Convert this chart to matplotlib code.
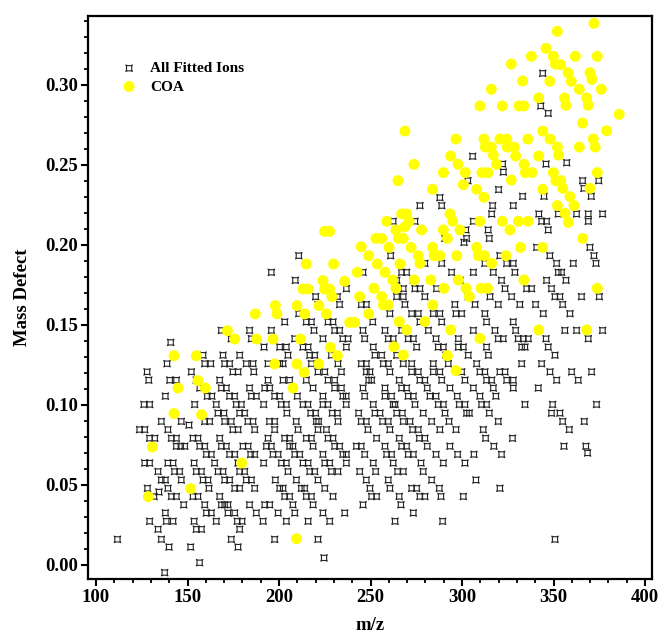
import matplotlib
matplotlib.use("Agg")
import matplotlib.pyplot as plt
import matplotlib.ticker as mticker
import numpy as np
from matplotlib.path import Path

plt.rcParams.update({
    "font.family": "Liberation Serif",
    "font.weight": "bold",
    "axes.labelweight": "bold",
})

# ── data ────────────────────────────────────────────────────────────────────
# all fitted ions, grouped by mass-defect row: (mass defect, [m/z, ...])
ion_rows = [
    (0.2246, [277.0, 288.9, 316.7, 328.0]),
    (0.2194, [316.2, 342.0, 352.6, 362.6, 369.0, 376.8]),
    (0.2148, [262.4, 274.3, 306.2, 343.5, 346.2, 369.0]),
    (0.2094, [302.1, 314.3, 347.1]),
    (0.2041, [290.7, 302.5, 314.9]),
    (0.2016, [301.1]),
    (0.1985, [340.8, 369.9]),
    (0.1933, [210.8, 261.0, 320.7, 348.0, 372.1]),
    (0.1885, [279.7, 288.9, 312.5, 324.4, 328.0, 351.7, 360.8, 373.2]),
    (0.1829, [195.8, 245.9, 267.0, 269.7, 294.3, 306.2, 317.1, 328.9, 352.6, 354.4]),
    (0.1779, [208.9, 264.3, 273.4, 298.9, 321.6, 346.2, 356.8]),
    (0.1727, [236.8, 265.2, 267.9, 274.3, 277.0, 286.1, 313.4, 323.5, 335.3, 338.0, 348.9]),
    (0.1677, [220.0, 231.9, 264.3, 267.9, 279.7, 303.4, 315.3, 327.1, 350.8, 353.5, 365.3, 375.0]),
    (0.1628, [221.3, 233.1, 245.0, 247.7, 268.8, 296.1, 307.1, 319.8, 331.6, 340.2, 355.0]),
    (0.1571, [210.8, 260.6, 272.5, 276.1, 284.3, 287.9, 296.7, 299.8, 312.5, 344.4, 359.0]),
    (0.1519, [203.1, 214.9, 217.7, 226.8, 229.5, 251.2, 277.0, 288.9, 313.4, 328.0]),
    (0.1466, [168.5, 183.9, 195.8, 219.1, 230.4, 233.1, 245.9, 257.9, 267.0, 281.6, 306.2,
              318.0, 329.3, 356.2, 362.6, 376.8]),
    (0.1414, [173.9, 184.9, 208.6, 224.0, 234.9, 237.7, 246.8, 259.7, 262.4, 270.6, 273.4,
              285.8, 298.0, 319.8, 322.5, 330.7, 333.5, 336.2, 345.9, 369.0]),
    (0.1391, [140.8]),
    (0.1362, [191.8, 200.4, 204.0, 213.1, 215.9, 236.8, 251.5, 275.2, 287.0, 289.8, 298.0,
              300.7, 313.4, 332.6, 334.4, 347.1]),
    (0.1311, [158.5, 169.4, 178.5, 204.9, 216.8, 219.5, 228.6, 252.4, 256.1, 264.3, 291.2,
              303.4, 314.4, 350.8]),
    (0.1258, [138.8, 159.4, 162.7, 170.3, 173.0, 182.1, 185.8, 194.0, 200.4, 202.2, 217.7,
              232.2, 245.0, 247.7, 257.0, 259.7, 267.9, 272.5, 284.3, 292.5, 308.0, 332.6,
              343.5]),
    (0.1207, [127.9, 152.1, 174.8, 177.6, 186.2, 221.3, 225.0, 234.1, 247.7, 249.7, 260.6,
              272.5, 276.1, 284.3, 287.9, 299.8, 309.8, 312.5, 320.7, 323.5, 348.1, 359.9,
              370.8]),
    (0.1155, [128.8, 140.3, 143.9, 154.8, 167.6, 194.0, 202.2, 205.8, 214.9, 226.8, 230.4,
              249.0, 250.6, 265.7, 277.0, 279.7, 288.9, 301.6, 313.4, 316.2, 324.4, 328.0,
              351.7, 363.5]),
    (0.1106, [156.7, 168.5, 171.2, 183.9, 192.2, 194.9, 218.6, 230.4, 234.1, 245.9, 257.9,
              267.0, 269.7, 281.0, 293.4, 306.2, 317.1, 328.0, 341.7]),
    (0.1055, [137.9, 160.8, 163.3, 173.0, 175.7, 184.9, 187.6, 197.6, 200.3, 210.0, 224.0,
              234.9, 236.7, 246.8, 257.9, 261.5, 270.6, 273.4, 282.5, 285.8, 297.4, 309.8,
              318.5]),
    (0.1003, [126.2, 129.3, 153.9, 165.7, 176.6, 179.4, 191.6, 201.2, 204.0, 213.1, 215.8,
              224.0, 226.7, 236.7, 251.5, 262.4, 263.4, 274.3, 287.0, 289.8, 298.5, 301.6,
              310.7, 313.4, 334.4, 349.5, 373.5]),
    (0.0949, [166.6, 169.9, 178.5, 181.2, 204.3, 217.3, 220.0, 229.1, 231.9, 243.5, 252.4,
              255.2, 264.3, 267.4, 278.8, 290.7, 302.5, 304.0, 314.9, 348.9, 353.5]),
    (0.0897, [135.7, 146.6, 159.4, 162.1, 170.3, 173.9, 183.0, 185.8, 194.8, 197.6, 209.4,
              220.4, 221.6, 232.2, 244.9, 247.7, 256.6, 259.7, 267.9, 271.6, 283.4, 292.9,
              319.8, 355.0, 366.8]),
    (0.0874, [150.8]),
    (0.0846, [123.8, 126.6, 139.3, 174.8, 177.6, 186.7, 197.6, 210.4, 221.3, 225.9, 248.6,
              260.6, 273.0, 276.1, 287.9, 296.7, 311.6, 358.6]),
    (0.0792, [129.3, 132.1, 141.2, 143.9, 153.0, 155.7, 167.6, 194.0, 203.1, 205.8, 214.9,
              217.7, 226.8, 229.5, 253.3, 265.7, 276.7, 279.7, 312.9, 327.6]),
    (0.0742, [143.9, 146.3, 148.5, 156.7, 159.4, 168.5, 171.2, 180.3, 183.1, 193.1, 195.8,
              205.8, 207.6, 218.6, 230.4, 233.1, 242.3, 244.9, 257.9, 267.0, 269.7, 281.0,
              293.4, 317.4, 355.7, 367.7]),
    (0.0700, [368.6]),
    (0.0691, [160.3, 163.0, 173.0, 175.8, 184.5, 186.7, 196.7, 199.5, 208.6, 211.3, 224.0,
              234.9, 236.8, 246.8, 258.8, 261.5, 270.6, 273.4, 285.8, 297.6, 306.5, 321.6]),
    (0.0637, [126.6, 129.3, 139.3, 142.1, 153.6, 164.8, 177.6, 191.6, 201.3, 204.0, 213.1,
              215.9, 225.0, 227.7, 236.8, 251.5, 262.4, 277.6, 289.8, 301.6]),
    (0.0584, [133.9, 142.9, 145.7, 154.8, 157.6, 166.7, 169.4, 178.5, 181.2, 204.9, 216.8,
              219.5, 228.6, 232.2, 244.1, 252.8, 264.8, 267.9, 278.8]),
    (0.0531, [135.7, 137.9, 146.6, 158.5, 161.2, 170.3, 173.0, 182.1, 184.9, 198.0, 209.5,
              221.3, 247.7, 259.7, 283.4, 307.6]),
    (0.0479, [128.1, 139.3, 161.7, 175.8, 178.5, 186.7, 200.4, 202.2, 212.2, 214.0, 225.0,
              249.7, 260.6, 272.5, 275.2, 287.6, 320.7]),
    (0.0456, [134.4]),
    (0.0428, [131.7, 141.2, 143.9, 153.0, 155.7, 167.6, 203.1, 205.8, 214.9, 217.7, 229.5,
              250.6, 253.3, 265.7, 277.0, 279.7, 288.5, 300.7]),
    (0.0376, [147.9, 159.4, 168.5, 170.3, 172.1, 183.9, 192.2, 194.9, 207.6, 218.6, 245.9,
              266.6]),
    (0.0325, [137.9, 160.3, 163.0, 172.1, 175.8, 187.6, 199.5, 208.6, 224.0, 235.9, 273.4]),
    (0.0273, [129.3, 138.4, 142.1, 153.6, 165.7, 177.2, 179.8, 191.3, 204.0, 215.9, 227.7,
              263.4, 289.4]),
    (0.0223, [133.9, 154.8, 157.6, 178.5]),
    (0.0160, [111.7, 135.7, 173.9, 197.6, 221.3, 350.8]),
    (0.0112, [139.9, 151.7, 177.6]),
    (0.0044, [224.6]),
    (0.0014, [156.6]),
    (-0.0048, [137.5]),
]

# ions sitting off the rows, in the upper right
ion_extra_mz = [344.1, 343.0, 347.1, 305.8, 322.2, 322.6, 345.9, 357.2, 303.2, 365.9,
                374.7, 320.0, 366.6, 287.9, 333.1, 344.8, 370.6]
ion_extra_md = [0.3073, 0.2869, 0.2823, 0.2554, 0.2506, 0.2456, 0.2506, 0.2514, 0.2402,
                0.2402, 0.2402, 0.2346, 0.2354, 0.2296, 0.2304, 0.2304, 0.2304]

# COA ions
coa_mz = [
    372.1, 352.1, 345.9, 337.9, 349.9, 361.9, 373.9, 326.9, 351.0, 353.9,
    357.9, 369.9, 333.1, 348.0, 359.7, 371.0, 316.0, 364.1, 376.1, 341.9,
    356.0, 368.1, 309.8, 322.0, 331.1, 333.8, 356.8, 369.0, 385.9, 365.9,
    268.8, 344.1, 379.0, 296.7, 312.0, 320.7, 324.4, 336.0, 348.1, 371.7,
    312.7, 316.0, 324.7, 328.4, 352.1, 364.1, 372.8, 293.8, 317.1, 329.3,
    341.9, 352.8, 273.7, 297.8, 318.9, 333.9, 289.8, 301.8, 310.9, 314.2,
    334.6, 338.2, 349.9, 373.9, 265.0, 300.7, 326.9, 351.3, 353.9, 283.9,
    308.0, 344.1, 355.0, 369.9, 312.0, 359.0,
    352.1, 361.2, 267.0, 269.7, 293.4, 356.2, 258.8, 271.0, 294.9, 309.8,
    322.0, 330.8, 336.2, 358.1, 263.9, 268.8, 277.9, 289.8, 298.9, 326.2,
    253.0, 256.1, 265.2, 267.9, 292.0, 365.9, 260.1, 272.1, 283.9, 308.0,
    332.0, 344.1, 276.1, 284.7, 287.9, 297.1, 308.9, 312.2, 324.0, 253.7,
    266.1, 277.0, 316.2, 257.9, 262.1, 273.9, 282.9, 298.0, 333.8, 251.9,
    263.9, 290.1, 302.2, 310.4, 314.0, 373.9, 256.1, 304.0, 257.0, 259.7,
    284.0, 265.7, 279.7, 269.7, 293.8, 341.9, 368.1, 309.8, 262.8, 267.9,
    292.0, 296.7,
    224.9, 227.6, 244.9, 249.0, 214.9, 229.8, 242.8, 224.0, 235.9, 213.1,
    215.9, 224.9, 227.7, 228.9, 244.1, 198.0, 209.8, 221.8, 187.0, 198.9,
    214.0, 225.9, 249.0, 238.6, 241.3, 171.8, 175.8, 187.8, 196.7, 211.7,
    228.1, 142.6, 154.8, 231.9, 197.6, 209.8, 221.7, 213.7, 155.7, 144.8,
    159.7, 207.6,
    142.6, 157.7, 130.8, 179.6, 151.7, 128.6, 209.6,
]
coa_md = [
    0.3385, 0.3335, 0.3229, 0.3179, 0.3179, 0.3179, 0.3179, 0.3131, 0.3131, 0.3127,
    0.3077, 0.3077, 0.3025, 0.3023, 0.3023, 0.3035, 0.2973, 0.2973, 0.2973, 0.2919,
    0.2919, 0.2919, 0.2869, 0.2869, 0.2869, 0.2869, 0.2873, 0.2873, 0.2816, 0.2762,
    0.2712, 0.2712, 0.2714, 0.2662, 0.2662, 0.2662, 0.2662, 0.2662, 0.2662, 0.2662,
    0.2612, 0.2612, 0.2612, 0.2612, 0.2612, 0.2612, 0.2612, 0.2556, 0.2562, 0.2556,
    0.2556, 0.2562, 0.2504, 0.2504, 0.2504, 0.2504, 0.2452, 0.2452, 0.2452, 0.2452,
    0.2452, 0.2452, 0.2452, 0.2452, 0.2402, 0.2377, 0.2406, 0.2402, 0.2402, 0.2348,
    0.2348, 0.2348, 0.2354, 0.2354, 0.2298, 0.2302,
    0.2246, 0.2246, 0.2194, 0.2194, 0.2194, 0.2198, 0.2148, 0.2148, 0.2148, 0.2148,
    0.2148, 0.2148, 0.2148, 0.2141, 0.2094, 0.2114, 0.2094, 0.2094, 0.2094, 0.2094,
    0.2041, 0.2041, 0.2041, 0.2041, 0.2041, 0.2041, 0.1985, 0.1985, 0.1985, 0.1985,
    0.1985, 0.1985, 0.1933, 0.1933, 0.1933, 0.1933, 0.1933, 0.1933, 0.1933, 0.1881,
    0.1881, 0.1885, 0.1885, 0.1829, 0.1781, 0.1781, 0.1781, 0.1781, 0.1781, 0.1729,
    0.1729, 0.1729, 0.1729, 0.1729, 0.1729, 0.1729, 0.1677, 0.1677, 0.1625, 0.1625,
    0.1625, 0.1521, 0.1521, 0.1469, 0.1469, 0.1469, 0.1469, 0.1416, 0.1364, 0.1312,
    0.1308, 0.1214,
    0.2085, 0.2085, 0.1989, 0.1933, 0.1881, 0.1881, 0.1829, 0.1777, 0.1773, 0.1725,
    0.1725, 0.1725, 0.1725, 0.1677, 0.1677, 0.1621, 0.1621, 0.1621, 0.1569, 0.1569,
    0.1569, 0.1569, 0.1569, 0.1516, 0.1516, 0.1464, 0.1412, 0.1412, 0.1412, 0.1412,
    0.1360, 0.1308, 0.1308, 0.1308, 0.1256, 0.1256, 0.1256, 0.1204, 0.1152, 0.1106,
    0.1106, 0.1106,
    0.0946, 0.0939, 0.0737, 0.0637, 0.0477, 0.0427, 0.0164,
]

# ── flatten the rows ────────────────────────────────────────────────────────
ion_mz = np.concatenate([mz for _, mz in ion_rows] + [ion_extra_mz])
ion_md = np.concatenate([[md] * len(mz) for md, mz in ion_rows] + [ion_extra_md])

# square with pinched-in sides, like the original "¤" symbol
C3 = Path.CURVE3
star_square = Path(
    [(-1, -1), (0, -0.45), (1, -1), (0.45, 0), (1, 1), (0, 0.45), (-1, 1), (-0.45, 0),
     (-1, -1), (-1, -1)],
    [Path.MOVETO, C3, C3, C3, C3, C3, C3, C3, C3, Path.CLOSEPOLY],
)

fig = plt.figure(figsize=(6.64, 6.41), dpi=100)
ax = fig.add_axes([0.1325, 0.0967, 0.8494, 0.8783])

ax.scatter(ion_mz, ion_md, s=22, marker=star_square, facecolors="none",
           edgecolors="#222222", linewidths=0.8, label="All Fitted Ions", zorder=2)
ax.scatter(coa_mz, coa_md, s=62, marker="o", color="#FFFF00", edgecolors="none",
           label="COA", zorder=3)

ax.set_xlim(95.6, 403.8)
ax.set_ylim(-0.0088, 0.3431)
ax.xaxis.set_major_locator(mticker.MultipleLocator(50))
ax.xaxis.set_minor_locator(mticker.MultipleLocator(10))
ax.yaxis.set_major_locator(mticker.MultipleLocator(0.05))
ax.yaxis.set_minor_locator(mticker.MultipleLocator(0.01))
ax.yaxis.set_major_formatter(mticker.FormatStrFormatter("%.2f"))

for sp in ax.spines.values():
    sp.set_linewidth(1.6)
ax.tick_params(which="major", direction="out", length=5, width=1.5, labelsize=13.5, pad=2)
ax.tick_params(which="minor", direction="out", length=3, width=1.3)

ax.set_xlabel("m/z", fontsize=13.5, labelpad=8)
ax.set_ylabel("Mass Defect", fontsize=13.5, labelpad=10)

ax.legend(loc="upper left", bbox_to_anchor=(0.035, 0.93), frameon=False,
          prop={"size": 11, "weight": "bold"}, handletextpad=0.4, labelspacing=0.3,
          borderaxespad=0, scatterpoints=1)

fig.savefig("out.png", dpi=100)
